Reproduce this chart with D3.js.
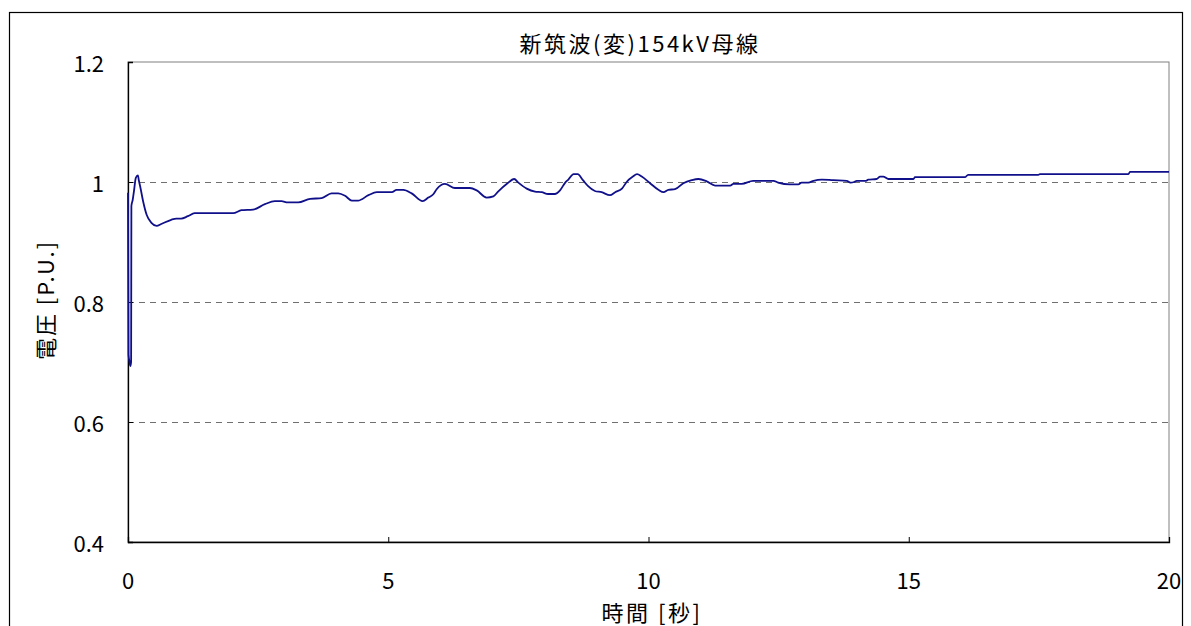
<!DOCTYPE html>
<html>
<head>
<meta charset="utf-8">
<script src="https://cdn.jsdelivr.net/npm/d3@7"></script>
<style>
  body { margin: 0; background: #fff; }
  text { font-family: "Noto Sans CJK JP", "Liberation Sans", sans-serif; fill: #000; }
</style>
</head>
<body>
<svg width="1191" height="626"></svg>
<script>
// time [s] and bus voltage [P.U.]
var times = [
  0, 0.01, 0.03, 0.045, 0.06, 0.065, 0.09, 0.115, 0.15, 0.19,
  0.21, 0.24, 0.29, 0.36, 0.45, 0.55, 0.64, 0.83, 0.93, 1.02,
  1.15, 1.28, 2.02, 2.18, 2.40, 2.63, 2.82, 2.95, 3.07, 3.27,
  3.50, 3.72, 3.91, 4.04, 4.17, 4.30, 4.42, 4.62, 4.78, 5.07,
  5.16, 5.29, 5.45, 5.66, 5.77, 5.87, 5.93, 6.09, 6.28, 6.57,
  6.70, 6.89, 7.02, 7.11, 7.28, 7.42, 7.50, 7.66, 7.82, 7.95,
  8.07, 8.20, 8.30, 8.40, 8.46, 8.56, 8.64, 8.74, 8.84, 8.97,
  9.10, 9.26, 9.36, 9.49, 9.58, 9.70, 9.78, 9.87, 10.03, 10.19,
  10.29, 10.38, 10.51, 10.67, 10.83, 10.96, 11.12, 11.28, 11.57, 11.63,
  11.79, 12.01, 12.40, 12.49, 12.72, 12.88, 12.94, 13.07, 13.17, 13.33,
  13.55, 13.81, 13.88, 13.95, 14.0, 14.18, 14.22, 14.38, 14.45, 14.51,
  14.61, 15.09, 15.12, 16.08, 16.14, 17.49, 17.52, 19.22, 19.25, 20.0
];
var voltage = [
  0.982, 0.712, 0.700, 0.693, 0.700, 0.960, 0.970, 0.985, 1.007, 1.011,
  1.002, 0.990, 0.968, 0.945, 0.932, 0.927, 0.930, 0.937, 0.939, 0.939,
  0.943, 0.948, 0.948, 0.953, 0.954, 0.963, 0.968, 0.968, 0.966, 0.966,
  0.972, 0.973, 0.981, 0.981, 0.977, 0.969, 0.969, 0.978, 0.983, 0.983,
  0.987, 0.987, 0.981, 0.968, 0.974, 0.980, 0.988, 0.997, 0.990, 0.990,
  0.986, 0.974, 0.976, 0.984, 0.997, 1.005, 0.999, 0.989, 0.984, 0.983,
  0.980, 0.980, 0.986, 0.999, 1.004, 1.013, 1.013, 1.003, 0.993, 0.985,
  0.983, 0.978, 0.983, 0.989, 1.000, 1.009, 1.013, 1.009, 0.998, 0.987,
  0.983, 0.987, 0.988, 0.998, 1.003, 1.005, 1.001, 0.994, 0.994, 0.997,
  0.997, 1.002, 1.002, 0.999, 0.996, 0.996, 0.999, 0.999, 1.002, 1.004,
  1.003, 1.002, 0.999, 1.000, 1.002, 1.002, 1.004, 1.005, 1.009, 1.009,
  1.005, 1.005, 1.008, 1.008, 1.012, 1.012, 1.013, 1.013, 1.017, 1.017
];
var xTicks = [0, 5, 10, 15, 20];
var yTicks = [0.4, 0.6, 0.8, 1.0, 1.2];
var gridTicks = [0.6, 0.8, 1.0];
var title = "新筑波(変)154kV母線";
var xLabel = "時間 [秒]";
var yLabel = "電圧 [P.U.]";

var svg = d3.select("svg");

var plotLeft = 128, plotRight = 1169, plotTop = 62, plotBottom = 542;

var x = d3.scaleLinear().domain([0, 20]).range([plotLeft, plotRight]);
var y = d3.scaleLinear().domain([0.4, 1.2]).range([plotBottom, plotTop]);

// outer chart frame
svg.append("rect")
    .attr("x", 9.5).attr("y", 12.5)
    .attr("width", 1173).attr("height", 700)
    .attr("fill", "none")
    .attr("stroke", "#000")
    .attr("stroke-width", 1.2);

// plot area border (top and right are grey)
svg.append("rect")
    .attr("x", plotLeft).attr("y", plotTop)
    .attr("width", plotRight - plotLeft).attr("height", plotBottom - plotTop)
    .attr("fill", "none")
    .attr("stroke", "#808080")
    .attr("stroke-width", 1);

// dashed gridlines
svg.append("g")
    .selectAll("line")
    .data(gridTicks)
    .enter()
  .append("line")
    .attr("x1", plotLeft).attr("x2", plotRight)
    .attr("y1", function(d) { return Math.round(y(d)) + 0.5; })
    .attr("y2", function(d) { return Math.round(y(d)) + 0.5; })
    .attr("stroke", "#707070")
    .attr("stroke-dasharray", "6,5");

// axes with inward ticks
var xAxis = d3.axisTop(x).tickValues(xTicks).tickSize(5).tickFormat("");
var yAxis = d3.axisRight(y).tickValues(yTicks).tickSize(5).tickFormat("");

var gx = svg.append("g")
    .attr("transform", "translate(0," + plotBottom + ")")
    .call(xAxis);
var gy = svg.append("g")
    .attr("transform", "translate(" + plotLeft + ",0)")
    .call(yAxis);
[gx, gy].forEach(function(g) {
  g.select(".domain").attr("stroke", "#000").attr("stroke-width", 1.3);
  g.selectAll(".tick line").attr("stroke", "#000");
});

// tick labels
svg.append("g")
    .selectAll("text")
    .data(xTicks)
    .enter()
  .append("text")
    .attr("x", function(d) { return x(d); })
    .attr("y", 589)
    .attr("text-anchor", "middle")
    .style("font-size", "22px")
    .text(function(d) { return d; });

svg.append("g")
    .selectAll("text")
    .data(yTicks)
    .enter()
  .append("text")
    .attr("x", 104)
    .attr("y", function(d) { return y(d) + 10; })
    .attr("text-anchor", "end")
    .style("font-size", "22px")
    .text(function(d) { return d === 1 ? "1" : d3.format(".1f")(d); });

// data line
var line = d3.line()
    .x(function(d) { return x(d[0]); })
    .y(function(d) { return y(d[1]); })
    .curve(d3.curveMonotoneX);

svg.append("path")
    .datum(d3.zip(times, voltage))
    .attr("d", line)
    .attr("fill", "none")
    .attr("stroke", "#10108a")
    .attr("stroke-width", 1.8);

// titles
svg.append("text")
    .attr("x", 640).attr("y", 52)
    .attr("text-anchor", "middle")
    .style("font-size", "22px")
    .style("letter-spacing", "2.5px")
    .text(title);

svg.append("text")
    .attr("x", 652).attr("y", 621)
    .attr("text-anchor", "middle")
    .style("font-size", "22px")
    .style("letter-spacing", "2.5px")
    .text(xLabel);

svg.append("text")
    .attr("transform", "translate(54,300) rotate(-90)")
    .attr("text-anchor", "middle")
    .style("font-size", "22px")
    .style("letter-spacing", "2px")
    .text(yLabel);
</script>
</body>
</html>
